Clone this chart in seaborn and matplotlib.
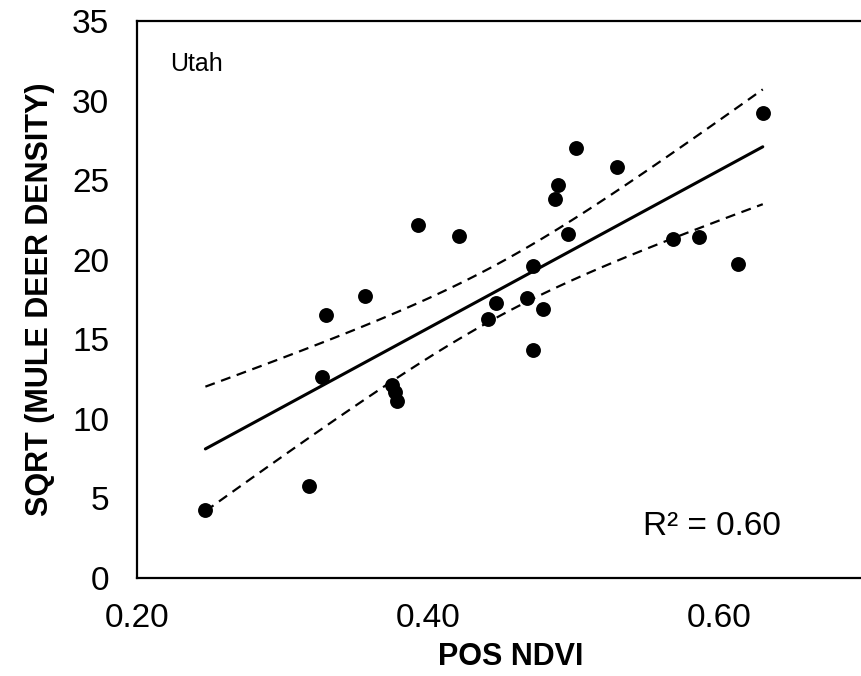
import numpy as np
import pandas as pd
import matplotlib
matplotlib.use("Agg")
import matplotlib.pyplot as plt
import seaborn as sns

pos_ndvi = [0.247, 0.318, 0.327, 0.330, 0.357, 0.375, 0.377, 0.379, 0.393, 0.421,
            0.441, 0.447, 0.468, 0.472, 0.472, 0.479, 0.487, 0.489, 0.496, 0.502,
            0.530, 0.568, 0.586, 0.613, 0.630]
sqrt_density = [4.3, 5.8, 12.6, 16.5, 17.7, 12.1, 11.7, 11.1, 22.2, 21.5,
                16.3, 17.3, 17.6, 19.6, 14.3, 16.9, 23.8, 24.7, 21.6, 27.0,
                25.8, 21.3, 21.4, 19.7, 29.2]
y_ticks = [0, 5, 10, 15, 20, 25, 30, 35]
x_ticks = [0.20, 0.40, 0.60]

sns.set_style("white")
plt.rcParams['font.family'] = ['Liberation Sans', 'DejaVu Sans']
plt.rcParams['text.color'] = 'black'
plt.rcParams['axes.labelcolor'] = 'black'
plt.rcParams['xtick.color'] = 'black'
plt.rcParams['ytick.color'] = 'black'

df = pd.DataFrame({"x": pos_ndvi, "y": sqrt_density})

# linear fit and 95% confidence band
x = np.array(pos_ndvi)
y = np.array(sqrt_density)
n = len(x)
b1, b0 = np.polyfit(x, y, 1)
resid = y - (b0 + b1 * x)
s = np.sqrt(np.sum(resid ** 2) / (n - 2))
t = 2.069  # t(0.975, df=23)
xs = np.linspace(x.min(), x.max(), 100)
fit = b0 + b1 * xs
se = s * np.sqrt(1 / n + (xs - x.mean()) ** 2 / np.sum((x - x.mean()) ** 2))
r2 = 1 - np.sum(resid ** 2) / np.sum((y - y.mean()) ** 2)
band = pd.DataFrame({"x": xs, "fit": fit, "lo": fit - t * se, "hi": fit + t * se})

fig = plt.figure(figsize=(8.61, 6.76), dpi=100)
ax = fig.add_axes([0.1591, 0.145, 0.8688, 0.824])

sns.lineplot(data=band, x="x", y="fit", color="black", linewidth=2.2, ax=ax)
sns.lineplot(data=band, x="x", y="lo", color="black", linewidth=1.6, linestyle=(0, (4.5, 3)), ax=ax)
sns.lineplot(data=band, x="x", y="hi", color="black", linewidth=1.6, linestyle=(0, (4.5, 3)), ax=ax)
sns.scatterplot(data=df, x="x", y="y", color="black", s=115, edgecolor="black", linewidth=0, ax=ax, zorder=5)

ax.set_xlim(0.2, 0.714)
ax.set_ylim(0, 35)
ax.set_xticks(x_ticks)
ax.set_xticklabels([f"{v:.2f}" for v in x_ticks])
ax.set_yticks(y_ticks)
ax.tick_params(axis="both", direction="out", length=8, width=1.5, labelsize=24,
               color="black", labelcolor="black")
ax.tick_params(axis="y", pad=12)
ax.tick_params(axis="x", pad=10)
for sp in ax.spines.values():
    sp.set_color("black")
    sp.set_linewidth(1.6)

ax.set_xlabel("POS NDVI", fontsize=22, fontweight="bold", labelpad=6, color="black")
ax.set_ylabel("SQRT (MULE DEER DENSITY)", fontsize=22, fontweight="bold", labelpad=12, color="black")

ax.text(0.044, 0.911, "Utah", transform=ax.transAxes, fontsize=18, color="black")
ax.text(0.676, 0.078, f"R² = {r2:.2f}", transform=ax.transAxes, fontsize=24, color="black")

fig.savefig("out.png", dpi=100)
